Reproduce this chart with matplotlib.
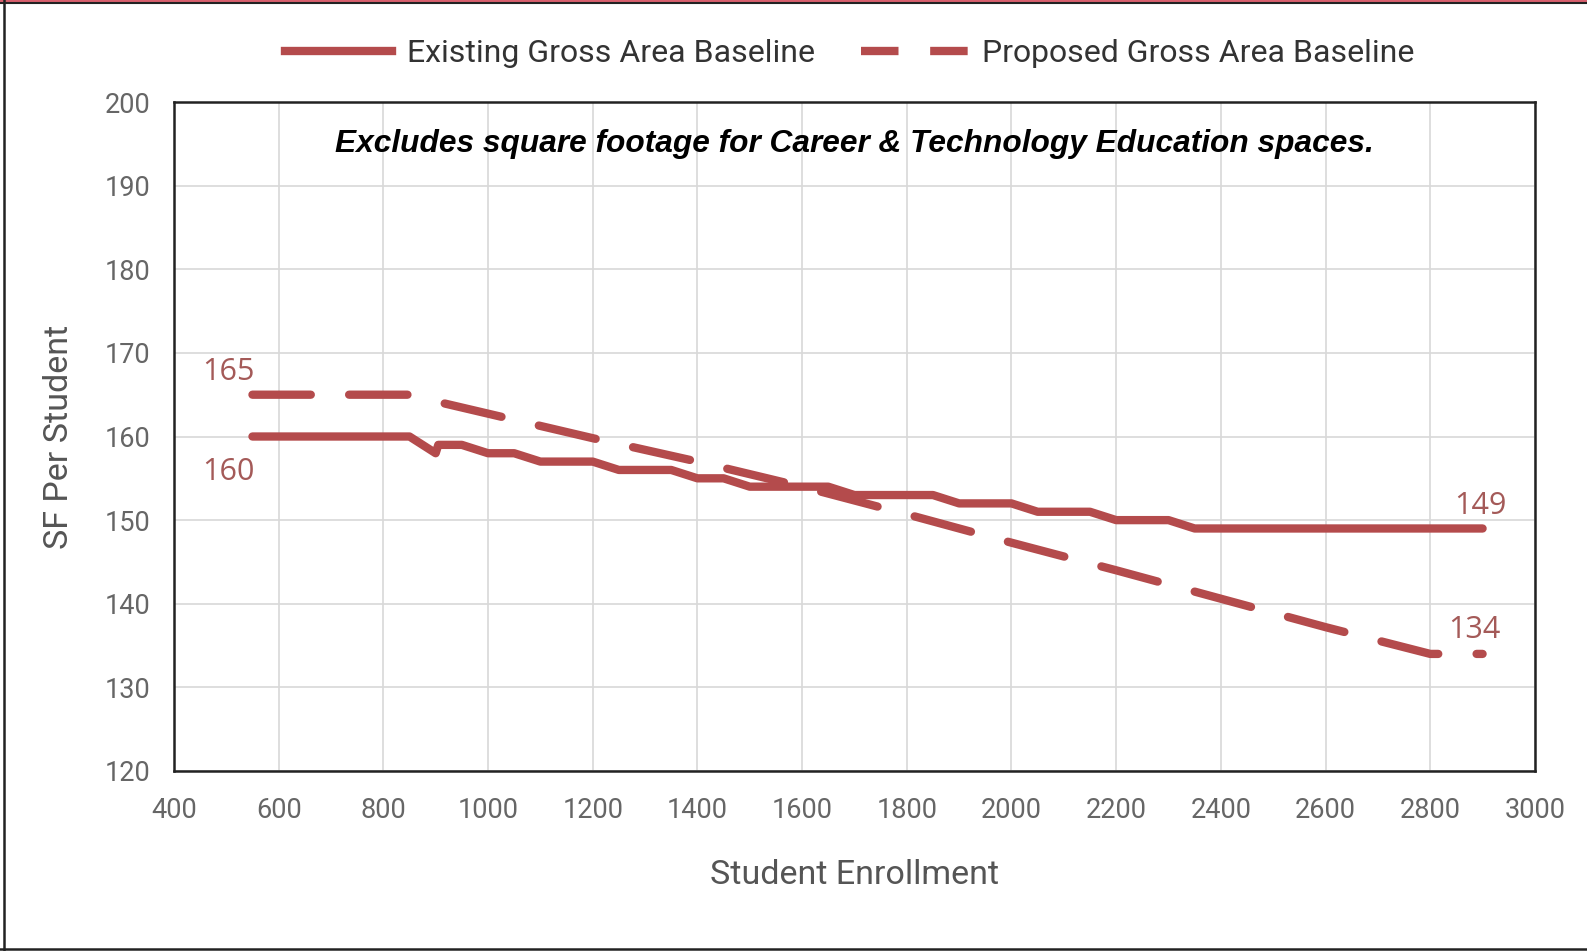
import matplotlib
matplotlib.use("Agg")
import matplotlib.pyplot as plt
from matplotlib.lines import Line2D

# Existing baseline (stepped)
enroll_existing = [550, 850, 900, 905, 950, 1000, 1050, 1100, 1200, 1250, 1350,
                   1400, 1450, 1500, 1650, 1700, 1850, 1900, 2000, 2050, 2150,
                   2200, 2300, 2350, 2900]
sf_existing = [160, 160, 158, 159, 159, 158, 158, 157, 157, 156, 156,
               155, 155, 154, 154, 153, 153, 152, 152, 151, 151,
               150, 150, 149, 149]

# Proposed baseline
enroll_proposed = [550, 850, 900, 1200, 1400, 1600, 1800, 2000, 2200, 2400,
                   2600, 2800, 2900]
sf_proposed = [165, 165, 164.2, 159.8, 157, 154, 150.7, 147.3, 144.0, 140.6,
               137.2, 134, 134]

x_ticks = list(range(400, 3001, 200))
y_ticks = list(range(120, 201, 10))

# end-point value labels: (x, y, text)
labels = [(550, 165, "165"), (550, 160, "160"), (2900, 149, "149"), (2900, 134, "134")]
label_offsets = {"165": (-46, 2.7), "160": (-46, -4.2), "149": (-5, 2.7), "134": (-15, 2.8)}

LINE = "#b44b4c"
LABEL = "#a45a58"
TICK = "#666666"

plt.rcParams["font.family"] = ["Roboto", "DejaVu Sans"]

fig = plt.figure(figsize=(15.87, 9.51), dpi=100)
ax = fig.add_axes([0.1096, 0.1893, 0.8576, 0.7034])

ax.plot(enroll_existing, sf_existing, color=LINE, lw=6,
        solid_capstyle="round", solid_joinstyle="round",
        label="Existing Gross Area Baseline", zorder=3)
ax.plot(enroll_proposed, sf_proposed, color=LINE, lw=6,
        dashes=(7, 4.6), dash_capstyle="round",
        label="Proposed Gross Area Baseline", zorder=3)

ax.set_xlim(400, 3000)
ax.set_ylim(120, 200)
ax.set_xticks(x_ticks)
ax.set_yticks(y_ticks)
ax.tick_params(axis="both", length=0, labelsize=19.5, labelcolor=TICK)
ax.tick_params(axis="x", pad=19)
ax.tick_params(axis="y", pad=17)
ax.grid(True, color="#d8d8d8", lw=1.2)
ax.set_axisbelow(True)
for s in ax.spines.values():
    s.set_color("#222222")
    s.set_linewidth(1.8)

ax.set_xlabel("Student Enrollment", fontsize=24.5, color="#555555", labelpad=25)
ax.set_ylabel("SF Per Student", fontsize=24.5, color="#555555", labelpad=21)

for x, y, t in labels:
    dx, dy = label_offsets[t]
    ax.text(x + dx, y + dy, t, fontsize=22, color=LABEL, ha="center",
            va="center", family=["Open Sans", "DejaVu Sans"])

ax.text(0.5, 0.937, "Excludes square footage for Career & Technology Education spaces.",
        transform=ax.transAxes, ha="center", va="center", fontsize=22.8,
        fontweight="bold", fontstyle="italic", color="black",
        family=["Liberation Sans", "DejaVu Sans"])

handles = [Line2D([], [], color=LINE, lw=6),
           Line2D([], [], color=LINE, lw=6, dashes=(4.5, 3.8))]
fig.legend(handles, ["Existing Gross Area Baseline", "Proposed Gross Area Baseline"],
           loc="center", bbox_to_anchor=(0.5356, 0.944), ncol=2, frameon=False,
           fontsize=23, handlelength=3.35, handletextpad=0.45, columnspacing=1.45,
           labelcolor="#333333")

# outer frame
fig.add_artist(Line2D([0, 1], [0.999, 0.999], transform=fig.transFigure,
                      color="#d9606e", lw=2.5))
fig.add_artist(Line2D([0, 1], [0.9965, 0.9965], transform=fig.transFigure,
                      color="#222222", lw=1.5))
fig.add_artist(Line2D([0.0027, 0.0027], [0, 1], transform=fig.transFigure,
                      color="#222222", lw=1.8))
fig.add_artist(Line2D([0, 1], [0.0022, 0.0022], transform=fig.transFigure,
                      color="#222222", lw=1.8))

fig.savefig("out.png", dpi=100)
